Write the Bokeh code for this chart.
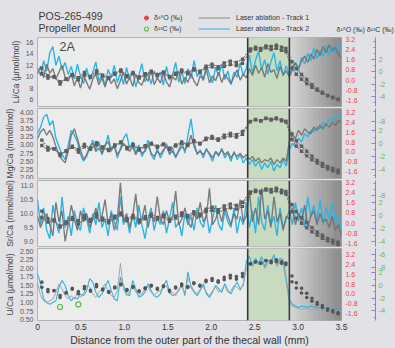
import numpy as np
from bokeh.plotting import figure
from bokeh.layouts import column, row
from bokeh.models import (Range1d, LinearAxis, FixedTicker, PrintfTickFormatter,
                          Span, Legend, LegendItem, Label)
from bokeh.embed import file_html
from bokeh.resources import INLINE

# ---------------- data ----------------
x_ticks = [0, 0.5, 1.0, 1.5, 2.0, 2.5, 3.0, 3.5]
x_tick_labels = ["0", "0.5", "1.0", "1.5", "2.0", "2.5", "3.0", "3.5"]
green_zone = [2.42, 2.90]
gray_zone = [2.90, 3.50]

track_x = np.linspace(0, 3.5, 100)  # laser ablation sampling positions (mm)

li_track2 = [11.5, 10.2, 12.8, 11.0, 14.2, 15.3, 12.0, 13.6, 11.2, 12.5,
             10.4, 11.8, 9.6, 12.2, 10.1, 8.8, 11.5, 9.4, 10.8, 12.6,
             9.2, 10.5, 8.4, 11.3, 9.8, 12.0, 9.0, 10.7, 8.6, 11.6,
             9.5, 10.9, 8.2, 10.2, 12.3, 9.1, 10.6, 8.7, 11.0, 9.6,
             10.8, 8.5, 11.8, 9.4, 10.3, 12.5, 9.0, 10.9, 8.8, 11.4,
             9.7, 12.8, 10.0, 11.2, 9.3, 12.0, 10.4, 8.9, 11.6, 10.1,
             12.2, 9.5, 11.0, 8.6, 10.8, 9.9, 12.4, 10.2,
             11.5, 13.8, 10.6, 12.9, 14.5, 11.2, 13.0, 10.4, 12.6, 14.2, 11.0, 12.8, 10.1, 11.9,
             10.3, 11.8, 12.5, 11.0, 13.4, 12.2, 14.1, 12.8, 15.0, 13.2, 14.6, 13.5, 15.5, 13.9, 15.2, 14.4, 15.8, 14.6]
li_track1 = [10.5, 11.8, 9.8, 12.2, 10.6, 11.4, 9.6, 10.8, 12.0, 9.9,
             9.2, 10.6, 8.4, 9.8, 8.0, 10.2, 9.0, 7.8, 9.6, 10.4,
             8.6, 9.8, 8.2, 10.0, 8.8, 9.6, 7.9, 9.3, 10.8, 8.7,
             9.9, 8.3, 10.4, 9.0, 8.5, 10.1, 9.2, 11.2, 8.6, 9.8,
             8.9, 10.5, 9.1, 8.2, 10.0, 9.4, 11.0, 8.7, 9.9, 9.0,
             10.6, 9.2, 8.4, 10.2, 9.5, 11.3, 8.9, 10.1, 9.3, 10.8,
             9.0, 10.4, 9.6, 8.8, 10.0, 11.2, 9.4, 10.5,
             9.8, 11.4, 10.2, 12.0, 10.6, 11.6, 9.9, 12.3, 10.8, 11.2, 9.7, 11.8, 10.4, 11.0,
             10.0, 11.2, 12.4, 11.5, 12.8, 13.6, 12.5, 14.0, 13.1, 14.8, 13.7, 15.3, 14.2, 15.6, 14.5, 15.1, 14.0, 13.2]

mg_track2 = [3.35, 3.55, 3.85, 3.95, 3.6, 3.75, 3.2, 2.95, 2.7, 2.55,
             3.0, 3.45, 3.3, 3.1, 2.7, 2.5, 2.65, 2.9, 3.15, 2.85,
             3.1, 2.7, 2.95, 3.3, 2.8, 3.05, 2.6, 2.9, 3.2, 3.35,
             2.9, 3.1, 2.75, 3.0, 2.65, 2.85, 3.15, 2.7, 2.55, 2.9,
             2.6, 2.8, 3.05, 2.7, 2.9, 2.6, 2.85, 3.1, 2.75, 3.3,
             3.8, 3.1, 2.7, 2.85, 2.6, 2.9, 2.7, 2.5, 2.8, 2.65,
             2.9, 2.6, 2.75, 2.5, 2.8, 2.55, 2.7, 2.45,
             2.6, 2.4, 2.55, 2.35, 2.5, 2.25, 2.45, 2.3, 2.5, 2.2, 2.4, 2.3, 2.55, 2.35,
             2.85, 3.05, 2.95, 3.2, 3.1, 3.35, 3.25, 3.45, 3.4, 3.55, 3.5, 3.7, 3.6, 3.8, 3.75, 3.9, 3.85, 3.95]
mg_track1 = [3.2, 3.4, 3.5, 3.3, 3.45, 3.25, 2.95, 2.7, 2.55, 2.45,
             2.8, 3.3, 3.5, 3.2, 2.85, 2.55, 2.7, 2.95, 3.05, 2.8,
             2.9, 2.75, 3.0, 3.1, 2.85, 2.95, 2.7, 2.85, 3.05, 2.95,
             2.8, 2.95, 2.7, 2.9, 2.75, 2.8, 3.0, 2.75, 2.65, 2.8,
             2.7, 2.85, 2.95, 2.75, 2.8, 2.65, 2.8, 2.95, 2.85, 3.0,
             3.3, 2.95, 2.75, 2.8, 2.7, 2.85, 2.75, 2.6, 2.8, 2.7,
             2.85, 2.7, 2.8, 2.6, 2.75, 2.65, 2.75, 2.6,
             2.7, 2.55, 2.65, 2.5, 2.6, 2.45, 2.55, 2.5, 2.6, 2.4, 2.55, 2.45, 2.6, 2.5,
             3.1, 3.3, 3.2, 3.45, 3.3, 3.5, 3.4, 3.35, 3.55, 3.45, 3.6, 3.5, 3.65, 3.55, 3.7, 3.6, 3.75, 3.7]

sr_track2 = [10.5, 9.6, 10.2, 9.4, 9.1, 10.3, 9.7, 9.3, 10.6, 9.5,
             9.9, 9.2, 10.1, 9.6, 9.4, 10.2, 9.8, 9.3, 10.0, 9.6,
             10.4, 9.5, 9.8, 9.2, 10.1, 9.7, 9.4, 10.6, 9.6, 9.9,
             9.3, 10.0, 9.5, 10.3, 9.6, 9.1, 9.8, 10.2, 9.4, 9.9,
             9.6, 10.1, 9.3, 9.8, 10.4, 9.5, 9.7, 9.2, 10.0, 9.6,
             9.9, 9.4, 10.2, 9.7, 9.5, 10.0, 9.3, 9.8, 10.3, 9.6,
             9.4, 10.1, 9.7, 9.5, 10.2, 9.3, 9.9, 9.6,
             10.4, 9.5, 10.1, 9.3, 10.6, 9.7, 9.4, 10.3, 9.6, 9.9, 9.2, 10.2, 9.5, 9.8,
             10.1, 9.6, 10.4, 9.8, 10.2, 9.5, 10.6, 9.9, 10.3, 9.7, 10.5, 9.6, 10.2, 9.8, 10.4, 9.7, 9.9, 9.4]
sr_track1 = [9.9, 9.5, 9.8, 10.0, 9.6, 9.2, 10.4, 9.7, 10.1, 9.0,
             9.6, 10.3, 9.8, 9.4, 10.1, 9.7, 10.0, 9.5, 9.8, 10.2,
             9.7, 9.9, 10.5, 9.6, 10.0, 9.4, 9.8, 11.1, 9.7, 10.0,
             9.5, 9.9, 10.7, 9.6, 9.8, 10.3, 9.5, 10.0, 9.7, 10.6,
             9.8, 9.6, 10.1, 9.7, 9.9, 10.8, 9.6, 9.8, 10.2, 9.7,
             9.5, 10.0, 9.8, 10.4, 9.7, 9.9, 10.9, 9.6, 9.8, 10.1,
             9.7, 10.3, 9.9, 9.6, 10.0, 9.8, 10.5, 9.7,
             9.9, 10.8, 9.7, 10.2, 9.6, 10.9, 9.8, 10.1, 9.5, 10.6, 9.7, 10.0, 9.4, 9.9,
             9.8, 10.2, 9.6, 10.0, 9.7, 10.3, 9.5, 9.9, 10.1, 9.6, 10.0, 9.7, 9.8, 9.5, 9.9, 9.4, 9.6, 9.2]

u_track2 = [1.85, 1.55, 1.1, 1.0, 0.95, 1.0, 1.05, 1.45, 1.65, 1.5,
            1.2, 1.05, 1.15, 1.1, 1.25, 1.2, 1.35, 1.7, 1.6, 1.3,
            1.15, 1.25, 1.45, 1.65, 1.35, 1.1, 1.05, 1.75, 1.5, 1.25,
            1.2, 1.65, 1.4, 1.15, 1.2, 1.3, 1.55, 1.35, 1.2, 1.15,
            1.25, 1.5, 1.65, 1.3, 1.2, 1.25, 1.35, 1.55, 1.2, 1.9,
            1.45, 1.3, 1.2, 1.35, 1.55, 1.25, 1.15, 1.3, 1.5, 1.4,
            1.3, 1.55, 1.35, 1.25, 1.45, 1.6, 1.4, 1.5,
            2.2, 2.35, 2.1, 2.3, 2.15, 2.35, 2.05, 2.25, 2.2, 2.4, 2.1, 2.3, 2.25, 1.7,
            1.1, 0.95, 0.9, 0.85, 0.9, 0.88, 0.85, 0.9, 0.87, 0.84, 0.86, 0.83, 0.8, 0.82, 0.8, 0.78, 0.8, 0.76]
u_track1 = [1.6, 1.2, 1.05, 1.0, 1.05, 1.1, 1.3, 1.55, 1.4, 1.2,
            1.1, 1.2, 1.1, 1.3, 1.15, 1.25, 1.5, 1.45, 1.25, 1.15,
            1.3, 1.4, 1.55, 1.3, 1.2, 1.15, 1.35, 2.15, 1.4, 1.2,
            1.3, 1.5, 1.3, 1.2, 1.25, 1.4, 1.45, 1.3, 1.2, 1.3,
            1.35, 1.45, 1.5, 1.25, 1.3, 1.2, 1.4, 1.45, 1.3, 1.7,
            1.5, 1.35, 1.25, 1.4, 1.45, 1.3, 1.2, 1.35, 1.45, 1.3,
            1.4, 1.5, 1.3, 1.35, 1.5, 1.45, 1.35, 1.55,
            2.0, 2.15, 2.05, 2.2, 2.1, 2.25, 2.0, 2.15, 2.2, 2.3, 2.05, 2.2, 2.1, 1.6,
            1.0, 0.9, 0.85, 0.82, 0.8, 0.83, 0.8, 0.78, 0.8, 0.77, 0.79, 0.76, 0.78, 0.75, 0.77, 0.74, 0.75, 0.73]

iso_x = [0.05, 0.12, 0.19, 0.26, 0.33, 0.40, 0.47, 0.54, 0.61, 0.68,
         0.75, 0.82, 0.89, 0.96, 1.03, 1.10, 1.17, 1.24, 1.31, 1.38,
         1.45, 1.52, 1.59, 1.66, 1.73, 1.80, 1.87, 1.94, 2.01, 2.08,
         2.15, 2.22, 2.29, 2.36,
         2.45, 2.51, 2.57, 2.63, 2.69, 2.75, 2.81, 2.86,
         2.93, 2.98, 3.04, 3.10, 3.16, 3.22, 3.28, 3.34, 3.40, 3.46]
d18o = [0.95, 0.35, 0.25, -0.3, 0.1, 0.45, 0.2, 0.6, 0.3, 0.75,
        0.4, 0.2, 0.55, 0.8, 0.35, 0.6, 0.25, 0.5, 0.7, 0.45,
        0.65, 0.3, 0.55, 0.8, 0.6, 0.9, 0.7, 1.1, 1.25, 1.05,
        1.35, 1.5, 1.4, 1.65,
        2.45, 2.6, 2.5, 2.7, 2.65, 2.75, 2.6, 2.5,
        1.45, 0.9, 0.45, 0.05, -0.35, -0.7, -0.95, -1.2, -1.35, -1.5]
d13c = [-0.3, -1.0, -0.8, -1.6, -1.2, -0.6, -1.3, -0.5, -0.9, -0.2,
        -0.7, -1.1, -0.4, 0.1, -0.8, -0.3, -1.0, -0.5, -0.1, -0.6,
        -0.2, -0.9, -0.4, 0.0, -0.3, 0.3, -0.1, 0.6, 0.8, 0.5,
        0.9, 1.2, 1.0, 1.4,
        3.4, 3.7, 3.5, 3.9, 3.6, 3.8, 3.5, 3.3,
        0.6, -0.4, -1.2, -1.9, -2.5, -3.0, -3.5, -3.9, -4.2, -4.5]
d13c_open_x = [0.26, 0.47]
d13c_open = [-3.4, -3.0]

o18_ticks = [-1.6, -0.8, 0.0, 0.8, 1.6, 2.4, 3.2]
c13_ticks = [2, 0, -2, -4]
c13_overflow = [-6, -8]

panels = [
    dict(label="Li/Ca (µmol/mol)", t1=li_track1, t2=li_track2, yr=(4.772, 16.877),
         ticks=[6, 8, 10, 12, 14, 16], fmt="%d", o18=(-2.072, 3.357), c13=(-5.622, 5.568)),
    dict(label="Mg/Ca (mmol/mol)", t1=mg_track1, t2=mg_track2, yr=(1.969, 4.123),
         ticks=[2.0, 2.25, 2.5, 2.75, 3.0, 3.25, 3.5, 3.75, 4.0], fmt="%.2f",
         o18=(-2.169, 3.525), c13=(-5.385, 5.385)),
    dict(label="Sr/Ca (mmol/mol)", t1=sr_track1, t2=sr_track2, yr=(8.821, 11.179),
         ticks=[9.0, 9.5, 10.0, 10.5, 11.0], fmt="%.1f", o18=(-1.836, 3.357), c13=(-4.769, 5.385)),
    dict(label="U/Ca (µmol/mol)", t1=u_track1, t2=u_track2, yr=(0.471, 2.586),
         ticks=[0.5, 0.75, 1.0, 1.25, 1.5, 1.75, 2.0, 2.25, 2.5], fmt="%.2f",
         o18=(-2.151, 3.672), c13=(-5.538, 5.846)),
]

# ---------------- style / geometry ----------------
FONT = "Liberation Sans"
PAGE_BG = "#e2e2e6"
PLOT_BG = "#ececec"
BLUE = "#2db4e4"
RED = "#e8423f"
GREEN = "#62b94f"
PURPLE = "#8686c4"
FRAME_W = 304
LEFT_B, RIGHT_B = 37, 50
HEAD_H = 35
CUT1, CUT2 = 140, 197
TOP_B = [2, 1, 1, 1]
FRAME_H = [69, 70, 66, 72]
BOT_B = [1, 1, 1, 27]

frame_tops = []
acc = HEAD_H
for i in range(4):
    frame_tops.append(acc + TOP_B[i])
    acc += TOP_B[i] + FRAME_H[i] + BOT_B[i]

x_range = Range1d(0, 3.5)


def to_abs(v, rng, i):
    lo, hi = rng
    return frame_tops[i] + (hi - v) / (hi - lo) * FRAME_H[i]


def from_abs(y, rng, i):
    lo, hi = rng
    return hi - (y - frame_tops[i]) / FRAME_H[i] * (hi - lo)


def header_fig(x0, x1, left_border):
    h = figure(frame_width=x1 - x0 - left_border, frame_height=HEAD_H,
               x_range=Range1d(x0 + left_border, x1), y_range=Range1d(HEAD_H, 0),
               output_backend="svg", toolbar_location=None,
               x_axis_location=None, y_axis_location=None,
               min_border_left=left_border, min_border_right=0, min_border_top=0,
               min_border_bottom=0, background_fill_color=PAGE_BG,
               border_fill_color=PAGE_BG, outline_line_color=None)
    h.xgrid.visible = False
    h.ygrid.visible = False
    return h


common = dict(background_fill_alpha=0, border_line_alpha=0, padding=0, margin=0,
              spacing=0, label_height=11, glyph_height=11,
              label_text_font=FONT, label_text_font_size="7px",
              label_text_color="#333333", click_policy="none")

# header part 1: site name
headA = header_fig(0, CUT1, LEFT_B)
for txt, ax, ay in (("POS-265-499", 38, 15), ("Propeller Mound", 38, 27)):
    headA.add_layout(Label(x=ax, y=ay, text=txt, text_font=FONT, text_font_size="10.5px",
                           text_color="#3a3a3a", text_baseline="middle", text_align="left"))

# header part 2: isotope legend
headB = header_fig(CUT1, CUT2, 0)
h_o18 = headB.scatter(iso_x, d18o, marker="circle", size=4.5, fill_color=RED,
                      line_color=RED, visible=False)
h_c13 = headB.scatter(iso_x, d13c, marker="circle", size=4.5, fill_color=None,
                      line_color=GREEN, line_width=1.1, visible=False)
lg1 = Legend(items=[LegendItem(label="δ¹⁸O (‰)", renderers=[h_o18]),
                    LegendItem(label="δ¹³C (‰)", renderers=[h_c13])],
             location=(1, 1), glyph_width=10, label_standoff=3, **common)
headB.add_layout(lg1)

# header part 3: laser-track legend + right-axis titles
headC = header_fig(CUT2, 395, 0)
h_t1 = headC.line(track_x, li_track1, line_color="#8a8a8a", line_width=1.2, visible=False)
h_t2 = headC.line(track_x, li_track2, line_color=BLUE, line_width=1.2, visible=False)
lg2 = Legend(items=[LegendItem(label="Laser ablation - Track 1", renderers=[h_t1]),
                    LegendItem(label="Laser ablation - Track 2", renderers=[h_t2])],
             location=(1, 1), glyph_width=32, label_standoff=6, **common)
headC.add_layout(lg2)
headC.add_layout(Label(x=336, y=28.5, text="δ¹⁸O (‰) δ¹³C (‰)", text_font=FONT,
                       text_font_size="7px", text_color="#333333",
                       text_baseline="middle", text_align="left"))

figs = [row(headA, headB, headC, spacing=0)]
for i, cfg in enumerate(panels):
    last = i == 3
    p = figure(frame_width=FRAME_W, frame_height=FRAME_H[i], x_range=x_range,
               y_range=Range1d(*cfg["yr"]), output_backend="svg", toolbar_location=None,
               x_axis_location="below" if last else None,
               min_border_left=LEFT_B, min_border_right=RIGHT_B,
               min_border_top=TOP_B[i], min_border_bottom=BOT_B[i],
               background_fill_color=PLOT_BG, border_fill_color=PAGE_BG,
               outline_line_color="#b4b4b8")
    p.extra_y_ranges = {"o18": Range1d(*cfg["o18"]), "c13": Range1d(*cfg["c13"])}
    p.xgrid.visible = False
    p.ygrid.visible = False
    ylo, yhi = cfg["yr"]

    # shaded zones
    p.quad(left=[green_zone[0]], right=[green_zone[1]], bottom=[ylo], top=[yhi],
           fill_color="#c8dbc0", line_color=None)
    n = 16
    edges = np.linspace(gray_zone[0], gray_zone[1], n + 1)
    shades = np.linspace(214, 140, n).astype(int)
    cols = ["#%02x%02x%02x" % (s, s, s) for s in shades]
    p.quad(left=edges[:-1], right=edges[1:], bottom=ylo, top=yhi,
           fill_color=cols, line_color=cols, line_width=0.6)

    # laser tracks
    if last:
        p.line(track_x, cfg["t2"], line_color=BLUE, line_width=1.1)
        p.line(track_x, cfg["t1"], line_color="#a5a5a5", line_width=1.0)
    else:
        p.line(track_x, cfg["t2"], line_color=BLUE, line_width=1.4)
        p.line(track_x, cfg["t1"], line_color="#707070", line_width=1.4, line_alpha=0.9)

    # isotopes
    if last:
        for vals, rn in ((d18o, "o18"), (d13c, "c13")):
            p.scatter(iso_x, vals, y_range_name=rn, marker="circle", size=3.6,
                      fill_color="#555555", line_color=None)
        p.scatter(d13c_open_x, d13c_open, y_range_name="c13", marker="circle", size=5,
                  fill_color=None, line_color=GREEN, line_width=1.2)
    else:
        for vals, rn in ((d18o, "o18"), (d13c, "c13")):
            p.line(iso_x, vals, y_range_name=rn, line_color="#7a7a7a", line_width=1.1,
                   line_dash="2 1")
            p.scatter(iso_x, vals, y_range_name=rn, marker="square", size=3.4,
                      fill_color="#5e5e5e", line_color=None)

    for loc in green_zone:
        p.add_layout(Span(location=loc, dimension="height", line_color="#3a3a3a",
                          line_width=1.6))

    # left axis
    ya = p.yaxis[0]
    ya.ticker = FixedTicker(ticks=cfg["ticks"])
    ya.formatter = PrintfTickFormatter(format=cfg["fmt"])
    ya.axis_label = cfg["label"]
    ya.axis_label_text_font = FONT
    ya.axis_label_text_font_size = "8.5px"
    ya.axis_label_text_font_style = "normal"
    ya.axis_label_text_color = "#444444"
    ya.axis_label_standoff = 2
    ya.major_label_text_font = FONT
    ya.major_label_text_font_size = "7px"
    ya.major_label_text_color = "#555555"
    ya.major_label_standoff = 4
    ya.axis_line_color = None
    ya.major_tick_line_color = None
    ya.minor_tick_line_color = None
    ya.major_tick_out = 0
    ya.major_tick_in = 0

    # right axis d18O
    ax18 = LinearAxis(y_range_name="o18", ticker=FixedTicker(ticks=o18_ticks),
                      formatter=PrintfTickFormatter(format="%.1f"),
                      major_label_text_color=RED, major_label_text_font=FONT,
                      major_label_text_font_size="7px", major_label_standoff=4,
                      axis_line_color=None, major_tick_line_color=None,
                      minor_tick_line_color=None, major_tick_out=0, major_tick_in=0,
                      axis_label=" ", axis_label_text_font_size="9px",
                      axis_label_standoff=2)
    p.add_layout(ax18, "right")

    # right axis d13C (labels of the panel above spill over, as in the original)
    c_lo, c_hi = cfg["c13"]
    ticks = [float(t) for t in c13_ticks]
    overrides = {}
    if i > 0:
        prev = panels[i - 1]["c13"]
        for v in c13_overflow:
            y_abs = to_abs(v, prev, i - 1)
            if y_abs - frame_tops[i] < 4:
                continue
            v2 = round(from_abs(y_abs, cfg["c13"], i), 3)
            if c_lo < v2 < c_hi:
                ticks.append(v2)
                overrides[v2] = str(v)
    minor = [m for m in [5, 4, 3, 1, -1, -3, -5] if c_lo < m < c_hi
             and all(abs(m - t) > 0.8 for t in ticks)]
    ax13 = LinearAxis(y_range_name="c13", ticker=FixedTicker(ticks=ticks, minor_ticks=minor),
                      formatter=PrintfTickFormatter(format="%d"),
                      major_label_overrides=overrides,
                      major_label_text_color=GREEN, major_label_text_font=FONT,
                      major_label_text_font_size="7.5px", major_label_standoff=3,
                      axis_line_color=PURPLE, major_tick_line_color=PURPLE,
                      minor_tick_line_color=PURPLE, major_tick_in=4, major_tick_out=0,
                      minor_tick_in=2, minor_tick_out=0)
    p.add_layout(ax13, "right")

    if last:
        xa = p.xaxis[0]
        xa.ticker = FixedTicker(ticks=x_ticks)
        xa.major_label_overrides = {t: l for t, l in zip(x_ticks, x_tick_labels)}
        xa.major_label_text_font = FONT
        xa.major_label_text_font_size = "8.5px"
        xa.major_label_text_color = "#333333"
        xa.major_label_standoff = 3
        xa.axis_line_color = None
        xa.major_tick_line_color = None
        xa.minor_tick_line_color = None
        xa.major_tick_out = 0
        xa.major_tick_in = 0
        xa.axis_label = "Distance from the outer part of the thecal wall (mm)"
        xa.axis_label_text_font = FONT
        xa.axis_label_text_font_size = "10.5px"
        xa.axis_label_text_font_style = "normal"
        xa.axis_label_text_color = "#333333"
        xa.axis_label_standoff = 1

    if i == 0:
        p.add_layout(Label(x=(59 - LEFT_B) / (FRAME_W / 3.5), y=from_abs(46, cfg["yr"], 0),
                           text="2A", text_font=FONT, text_font_size="12.5px",
                           text_color="#4a4a4a", text_baseline="middle", text_align="left"))

    figs.append(p)

layout = column(*figs, spacing=0, styles={"background-color": PAGE_BG})
open("out.html", "w").write(file_html(layout, INLINE))
